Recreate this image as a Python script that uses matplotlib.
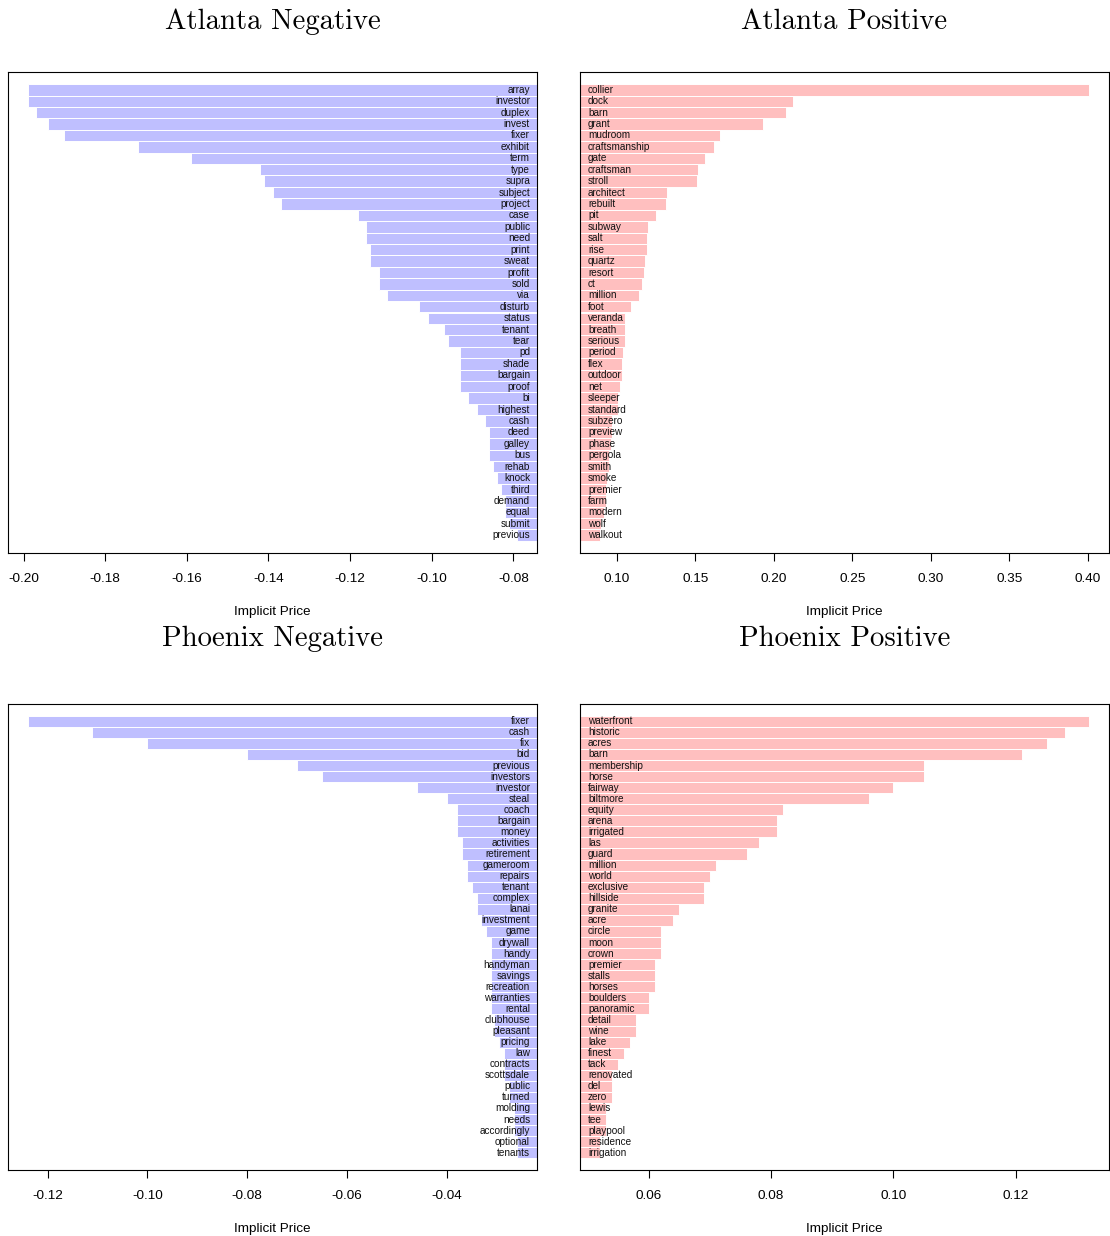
import numpy as np
import matplotlib
matplotlib.use('Agg')
import matplotlib.pyplot as plt
from matplotlib import ticker

plt.rcParams['font.family'] = ['Liberation Sans', 'DejaVu Sans']
plt.rcParams['axes.unicode_minus'] = False

## word lists and implicit prices
atl_neg_words = ['array','investor','duplex','invest','fixer','exhibit','term','type','supra','subject',
                 'project','case','public','need','print','sweat','profit','sold','via','disturb',
                 'status','tenant','tear','pd','shade','bargain','proof','bi','highest','cash',
                 'deed','galley','bus','rehab','knock','third','demand','equal','submit','previous']
atl_neg_vals = [-0.199,-0.199,-0.197,-0.194,-0.190,-0.172,-0.159,-0.142,-0.141,-0.139,
                -0.137,-0.118,-0.116,-0.116,-0.115,-0.115,-0.113,-0.113,-0.111,-0.103,
                -0.101,-0.097,-0.096,-0.093,-0.093,-0.093,-0.093,-0.091,-0.089,-0.087,
                -0.086,-0.086,-0.086,-0.085,-0.084,-0.083,-0.082,-0.082,-0.081,-0.079]

atl_pos_words = ['collier','dock','barn','grant','mudroom','craftsmanship','gate','craftsman','stroll','architect',
                 'rebuilt','pit','subway','salt','rise','quartz','resort','ct','million','foot',
                 'veranda','breath','serious','period','flex','outdoor','net','sleeper','standard','subzero',
                 'preview','phase','pergola','smith','smoke','premier','farm','modern','wolf','walkout']
atl_pos_vals = [0.401,0.212,0.208,0.193,0.166,0.162,0.156,0.152,0.151,0.132,
                0.131,0.125,0.120,0.119,0.119,0.118,0.117,0.116,0.114,0.109,
                0.105,0.105,0.105,0.104,0.103,0.103,0.102,0.101,0.101,0.097,
                0.097,0.096,0.095,0.095,0.094,0.093,0.093,0.092,0.090,0.089]

phx_neg_words = ['fixer','cash','fix','bid','previous','investors','investor','steal','coach','bargain',
                 'money','activities','retirement','gameroom','repairs','tenant','complex','lanai','investment','game',
                 'drywall','handy','handyman','savings','recreation','warranties','rental','clubhouse','pleasant','pricing',
                 'law','contracts','scottsdale','public','turned','molding','needs','accordingly','optional','tenants']
phx_neg_vals = [-0.124,-0.111,-0.100,-0.080,-0.070,-0.065,-0.046,-0.040,-0.038,-0.038,
                -0.038,-0.037,-0.037,-0.036,-0.036,-0.035,-0.034,-0.034,-0.033,-0.032,
                -0.031,-0.031,-0.031,-0.031,-0.031,-0.031,-0.031,-0.0305,-0.0305,-0.0295,
                -0.0285,-0.0285,-0.0285,-0.0275,-0.0275,-0.0265,-0.0265,-0.0265,-0.0258,-0.0258]

phx_pos_words = ['waterfront','historic','acres','barn','membership','horse','fairway','biltmore','equity','arena',
                 'irrigated','las','guard','million','world','exclusive','hillside','granite','acre','circle',
                 'moon','crown','premier','stalls','horses','boulders','panoramic','detail','wine','lake',
                 'finest','tack','renovated','del','zero','lewis','tee','playpool','residence','irrigation']
phx_pos_vals = [0.132,0.128,0.125,0.121,0.105,0.105,0.100,0.096,0.082,0.081,
                0.081,0.078,0.076,0.071,0.070,0.069,0.069,0.065,0.064,0.062,
                0.062,0.062,0.061,0.061,0.061,0.060,0.060,0.058,0.058,0.057,
                0.056,0.055,0.054,0.054,0.054,0.053,0.053,0.053,0.052,0.052]

titles = ['Atlanta Negative','Atlanta Positive','Phoenix Negative','Phoenix Positive']
tick_steps = [0.02, 0.05, 0.02, 0.02]

W, H = 1110, 1236
fig = plt.figure(figsize=(W/100, H/100), dpi=100)

# axes boxes in pixels: left, top, width, height, title baseline
boxes = [(8,72,529,481,29),(580,72,529,481,29),(8,704,529,466,646),(580,704,529,466,646)]
panels = [(atl_neg_words,atl_neg_vals),(atl_pos_words,atl_pos_vals),
          (phx_neg_words,phx_neg_vals),(phx_pos_words,phx_pos_vals)]

for i in range(4):
    words, vals = panels[i]
    vals = np.array(vals)
    l, t, w, h, tb = boxes[i]
    ax = fig.add_axes([l/W, 1-(t+h)/H, w/W, h/H])
    neg = vals.max() < 0
    color = '#bfbfff' if neg else '#ffbfbf'
    y = np.arange(len(vals))
    ax.barh(y, vals, height=1.0, color=color, edgecolor='white', linewidth=0.7)
    rng = vals.max()-vals.min()
    ax.set_xlim(vals.min()-0.04*rng, vals.max()+0.04*rng)
    ax.set_ylim(len(vals)-1+0.04*(len(vals)-1), -0.04*(len(vals)-1))
    trans = ax.get_yaxis_transform()
    for k, word in enumerate(words):
        if neg:
            ax.text(0.987, k, word, transform=trans, ha='right', va='center', fontsize=7.2, color='#111111')
        else:
            ax.text(0.015, k, word, transform=trans, ha='left', va='center', fontsize=7.2, color='#111111')
    ax.set_yticks([])
    ax.xaxis.set_major_locator(ticker.MultipleLocator(tick_steps[i]))
    ax.xaxis.set_major_formatter(ticker.FormatStrFormatter('%.2f'))
    ax.tick_params(axis='x', direction='out', length=5.5, width=0.8, pad=9, labelsize=9.7)
    for s in ax.spines.values():
        s.set_linewidth(0.8)
    ax.set_xlabel('Implicit Price', fontsize=9.7, labelpad=15)
    fig.text((l+w/2)/W, 1-tb/H, titles[i], family='cmr10', fontsize=20.7,
             ha='center', va='baseline')

fig.savefig('out.png', dpi=100)
